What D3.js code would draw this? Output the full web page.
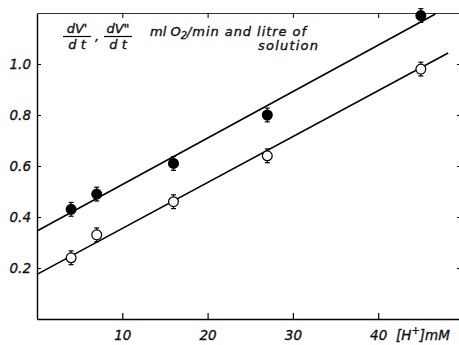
<!DOCTYPE html>
<html>
<head>
<meta charset="utf-8">
<script src="https://cdn.jsdelivr.net/npm/d3@7"></script>
<style>
  body { margin: 0; background: #fff; }
  svg { display: block; }
  text { font-family: "DejaVu Sans", sans-serif; font-style: italic; fill: #111; stroke: #111; stroke-width: 0.35px; }
</style>
</head>
<body>
<div class="visHolder"></div>
<script>
// [H+] in mM
const concentrations = [4, 7, 16, 27, 45];
// dV'/dt (filled) and dV''/dt (open), ml O2/min and litre of solution
const filledValues = [0.43, 0.49, 0.61, 0.80, 1.19];
const openValues = [0.24, 0.33, 0.46, 0.64, 0.98];
const filledErr = [0.027, 0.027, 0.027, 0.027, 0.027];
const openErr = [0.027, 0.027, 0.027, 0.027, 0.027];
// fitted lines: [x0, y0, x1, y1] in data units
const filledFit = [0, 0.345, 46.7, 1.196];
const openFit = [0, 0.175, 48.2, 1.043];
const xTicks = [10, 20, 30, 40];
const yTicks = [0.2, 0.4, 0.6, 0.8, 1.0];

const w = 459;
const h = 345;

const xScale = d3.scaleLinear().domain([0, 50]).range([37, 463.5]);
const yScale = d3.scaleLinear().domain([0, 1.2]).range([319, 13]);
const xRight = 49.7;

const svg = d3.select(".visHolder")
    .append("svg")
    .attr("width", w)
    .attr("height", h);

// top and right frame ticks
svg.append("g")
    .attr("transform", `translate(0, ${yScale(1.2)})`)
    .call(d3.axisTop(xScale).tickValues(xTicks).tickSizeInner(-5).tickSizeOuter(0).tickFormat(""))
    .call(g => g.select(".domain").attr("stroke-width", 1).attr("stroke", "#333"));

svg.append("g")
    .attr("transform", `translate(${xScale(xRight)}, 0)`)
    .call(d3.axisRight(yScale).tickValues(yTicks).tickSizeInner(-4).tickSizeOuter(0).tickFormat(""));

// bottom axis
svg.append("g")
    .attr("transform", `translate(0, ${yScale(0)})`)
    .call(d3.axisBottom(xScale).tickValues(xTicks).tickSizeInner(-6).tickSizeOuter(0).tickPadding(11).tickFormat(d3.format("d")))
    .call(g => g.select(".domain").attr("stroke-width", 1.4))
    .call(g => g.selectAll(".tick line").attr("stroke-width", 1.2))
    .call(g => g.selectAll(".tick text").style("font-size", "13.5px").style("font-family", "DejaVu Sans").style("font-style", "italic"));

// left axis
svg.append("g")
    .attr("transform", `translate(${xScale(0)}, 0)`)
    .call(d3.axisLeft(yScale).tickValues(yTicks).tickSizeInner(-4).tickSizeOuter(0).tickPadding(6).tickFormat(d3.format(".1f")))
    .call(g => g.select(".domain").attr("stroke-width", 1.4))
    .call(g => g.selectAll(".tick text").style("font-size", "13.5px").style("font-family", "DejaVu Sans").style("font-style", "italic"));

// x axis unit
const unit = svg.append("text")
    .attr("x", 396)
    .attr("y", 340)
    .style("font-size", "13.5px");
unit.append("tspan").text("[H");
unit.append("tspan").attr("dy", -6).style("font-size", "10px").text("+");
unit.append("tspan").attr("dy", 6).text("]mM");

// fitted lines
const fits = [filledFit, openFit];
svg.selectAll(".fit")
    .data(fits)
    .enter()
    .append("line")
    .attr("class", "fit")
    .attr("x1", d => xScale(d[0]))
    .attr("y1", d => yScale(d[1]))
    .attr("x2", d => xScale(d[2]))
    .attr("y2", d => yScale(d[3]))
    .attr("stroke", "#000")
    .attr("stroke-width", 1.6);

// points with error bars
const series = [
    { values: filledValues, err: filledErr, fill: "#000" },
    { values: openValues, err: openErr, fill: "#fff" }
];

series.forEach(s => {
    const pts = concentrations.map((c, i) => ({ x: c, y: s.values[i], e: s.err[i] }));
    const g = svg.append("g");
    pts.forEach(p => {
        const cx = xScale(p.x);
        const top = yScale(p.y + p.e);
        const bot = yScale(p.y - p.e);
        g.append("line").attr("x1", cx).attr("x2", cx).attr("y1", top).attr("y2", bot)
            .attr("stroke", "#000").attr("stroke-width", 1.2);
        [top, bot].forEach(yy => {
            g.append("line").attr("x1", cx - 2.5).attr("x2", cx + 2.5).attr("y1", yy).attr("y2", yy)
                .attr("stroke", "#000").attr("stroke-width", 1.2);
        });
    });
    g.selectAll("circle")
        .data(pts)
        .enter()
        .append("circle")
        .attr("cx", d => xScale(d.x))
        .attr("cy", d => yScale(d.y))
        .attr("r", 4.9)
        .attr("fill", s.fill)
        .attr("stroke", "#000")
        .attr("stroke-width", 1.2);
});

// y label with fractions
const label = svg.append("g").style("font-size", "13px");
const frac = (x, num) => {
    label.append("text").attr("x", x).attr("y", 33).attr("text-anchor", "middle").text(num);
    label.append("line").attr("x1", x - 14).attr("x2", x + 14).attr("y1", 36.5).attr("y2", 36.5)
        .attr("stroke", "#000").attr("stroke-width", 1.2);
    label.append("text").attr("x", x).attr("y", 49).attr("text-anchor", "middle").text("d t");
};
frac(77, "dV'");
label.append("text").attr("x", 95).attr("y", 41).text(",");
frac(118, "dV\"");
const main = label.append("text").attr("x", 150).attr("y", 36);
main.append("tspan").text("ml O");
main.append("tspan").attr("dy", 3).style("font-size", "10px").text("2");
main.append("tspan").attr("dy", -3).attr("textLength", 119).text("/min and litre of");
label.append("text").attr("x", 318).attr("y", 50).attr("text-anchor", "end")
    .attr("textLength", 60).text("solution");
</script>
</body>
</html>
